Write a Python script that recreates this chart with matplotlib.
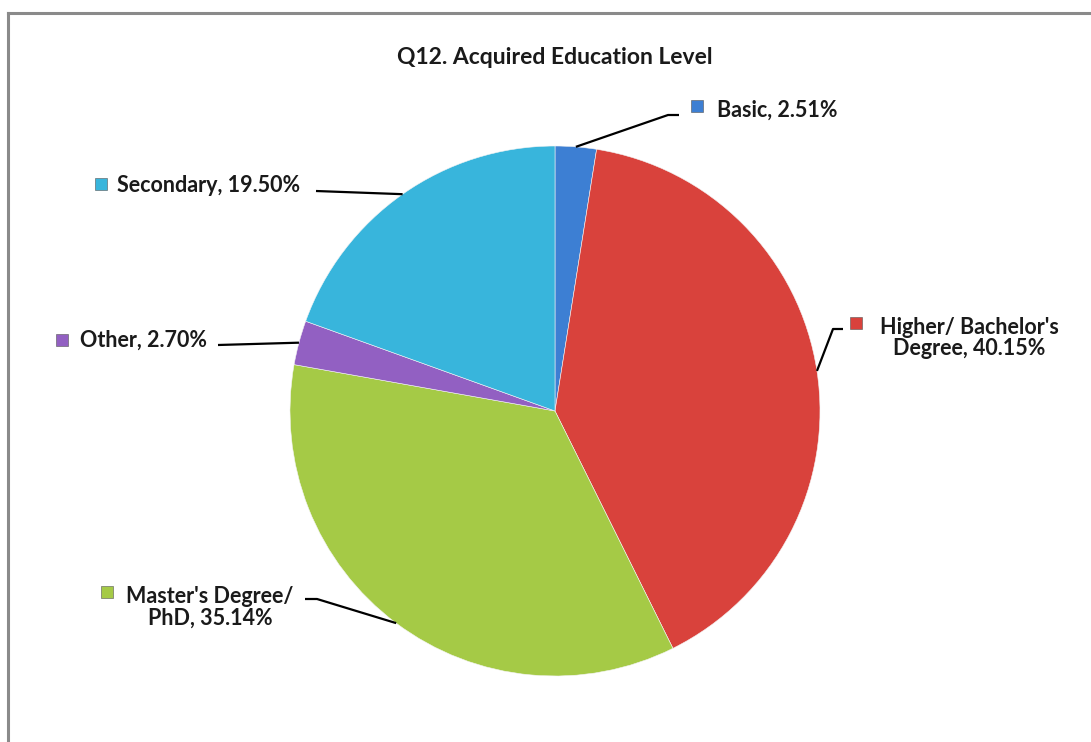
import numpy as np
import matplotlib.pyplot as plt
from matplotlib.lines import Line2D

# data
categories = ["Basic", "Higher/ Bachelor's\nDegree", "Master's Degree/\nPhD", "Other", "Secondary"]
shares = [2.51, 40.15, 35.14, 2.70, 19.50]
colors = ["#3D7FD3", "#D9423C", "#A5CA46", "#9260C2", "#38B5DC"]
title = "Q12. Acquired Education Level"

W, H = 1091, 742
cx, cy, r = 555, 742 - 411, 265

plt.rcParams['font.family'] = ['Lato', 'DejaVu Sans']

fig = plt.figure(figsize=(W / 100, H / 100), dpi=100)
ax = fig.add_axes([0, 0, 1, 1])

wedges, _ = ax.pie(shares, colors=colors, startangle=90, counterclock=False,
                   center=(cx, cy), radius=r, frame=True,
                   wedgeprops=dict(edgecolor="#f4f4f4", linewidth=0.4))

ax.set_xlim(0, W)
ax.set_ylim(0, H)
ax.set_aspect('equal')
ax.axis('off')

# label placement (pixel coords, y from top): text anchor, marker, elbow, line end
labels = [
    dict(text=(717, 110), ha='left', marker=(697, 106), elbow=(668, 115), end=(679, 115)),
    dict(text=(969, 338), ha='center', marker=(856, 323), elbow=(833, 329), end=(843, 329)),
    dict(text=(210, 607), ha='center', marker=(107, 592), elbow=(317, 599), end=(305, 599)),
    dict(text=(80, 340), ha='left', marker=(62, 340), elbow=(218, 345), end=(218, 345)),
    dict(text=(117, 186), ha='left', marker=(101, 184), elbow=(316, 191), end=(316, 191)),
]

for w, name, val, col, lab in zip(wedges, categories, shares, colors, labels):
    mid = np.deg2rad((w.theta1 + w.theta2) / 2)
    px = cx + r * np.cos(mid)
    py = cy + r * np.sin(mid)
    ex, ey = lab['elbow']
    fx, fy = lab['end']
    ax.plot([px, ex, fx], [py, H - ey, H - fy], color='black', lw=1.6,
            solid_capstyle='butt', zorder=3)
    tx, ty = lab['text']
    ax.text(tx, H - ty, f"{name}, {val:.2f}%", ha=lab['ha'], va='center',
            multialignment='center', fontsize=15.5, fontweight='bold',
            color='#1a1a1a', linespacing=1.05)
    mx, my = lab['marker']
    ax.plot(mx, H - my, marker='s', markersize=8, color=col,
            markeredgecolor='#555555', markeredgewidth=0.4)

ax.text(555, H - 58, title, ha='center', va='center', fontsize=16.5,
        fontweight='bold', color='#1a1a1a')

# outer frame (only the top and left edges are inside the picture)
fig.add_artist(Line2D([8 / W, 8 / W], [0, 1 - 13 / H], transform=fig.transFigure,
                      color='#8a8a8a', lw=2.2))
fig.add_artist(Line2D([8 / W, 1], [1 - 13 / H, 1 - 13 / H], transform=fig.transFigure,
                      color='#8a8a8a', lw=2.2))

fig.savefig("out.png", dpi=100, facecolor='white')
